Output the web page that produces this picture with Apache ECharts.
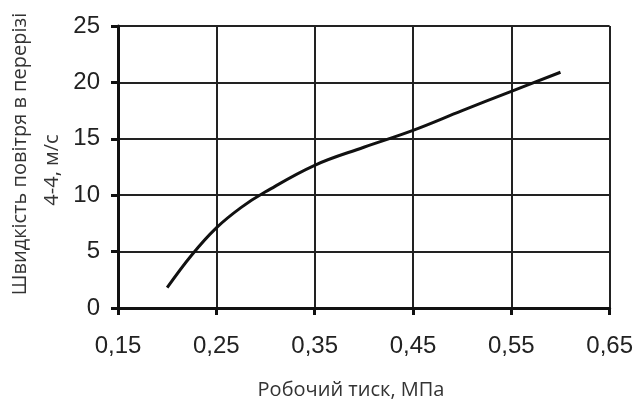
<!DOCTYPE html>
<html><head><meta charset="utf-8">
<script src="https://cdn.jsdelivr.net/npm/echarts@6/dist/echarts.min.js"></script>
<style>html,body{margin:0;padding:0;background:#fff}#c{width:636px;height:401px}</style>
</head><body><div id="c"></div>
<script>
const pressure = [0.2, 0.225, 0.25, 0.275, 0.3, 0.35, 0.4, 0.45, 0.5, 0.55, 0.6];
const speed = [1.8, 4.7, 7.1, 8.9, 10.3, 12.65, 14.25, 15.75, 17.5, 19.2, 20.9];
const xTicks = [0.15, 0.25, 0.35, 0.45, 0.55, 0.65];
const yTicks = [0, 5, 10, 15, 20, 25];
const xTitle = 'Робочий тиск, МПа';
const yTitle1 = 'Швидкість повітря в перерізі';
const yTitle2 = '4-4, м/с';

const titleStyle = {fontFamily: 'Open Sans', fontSize: 20, fill: '#333'};
const chart = echarts.init(document.getElementById('c'));
chart.setOption({
  animation: false,
  grid: {left: 118, right: 25, top: 26, bottom: 93},
  graphic: [
    {type: 'text', x: 351, y: 390, style: Object.assign({text: xTitle, align: 'center', verticalAlign: 'middle'}, titleStyle)},
    {type: 'text', x: 20, y: 154, rotation: Math.PI / 2, style: Object.assign({text: yTitle1, align: 'center', verticalAlign: 'middle'}, titleStyle)},
    {type: 'text', x: 52, y: 170, rotation: Math.PI / 2, style: Object.assign({text: yTitle2, align: 'center', verticalAlign: 'middle'}, titleStyle)}
  ],
  xAxis: {
    type: 'value', min: xTicks[0], max: xTicks[xTicks.length-1], interval: 0.1,
    axisLine: {lineStyle: {color: '#111', width: 3}},
    axisTick: {show: true, length: 7, lineStyle: {color: '#111', width: 3}},
    axisLabel: {margin: 26, fontFamily: 'Liberation Sans', fontSize: 24, color: '#222',
      formatter: v => v.toFixed(2).replace('.', ',')},
    splitLine: {show: true, lineStyle: {color: '#222', width: 2}}
  },
  yAxis: {
    type: 'value', min: yTicks[0], max: yTicks[yTicks.length-1], interval: 5,
    axisLine: {show: true, lineStyle: {color: '#111', width: 3}},
    axisTick: {show: true, length: 7, lineStyle: {color: '#111', width: 3}},
    axisLabel: {margin: 18, fontFamily: 'Liberation Sans', fontSize: 24, color: '#222'},
    splitLine: {show: true, lineStyle: {color: '#222', width: 2}}
  },
  series: [{
    type: 'line', data: pressure.map((p, i) => [p, speed[i]]),
    smooth: 0.4, symbol: 'none',
    lineStyle: {color: '#111', width: 3}
  }]
});
</script></body></html>
